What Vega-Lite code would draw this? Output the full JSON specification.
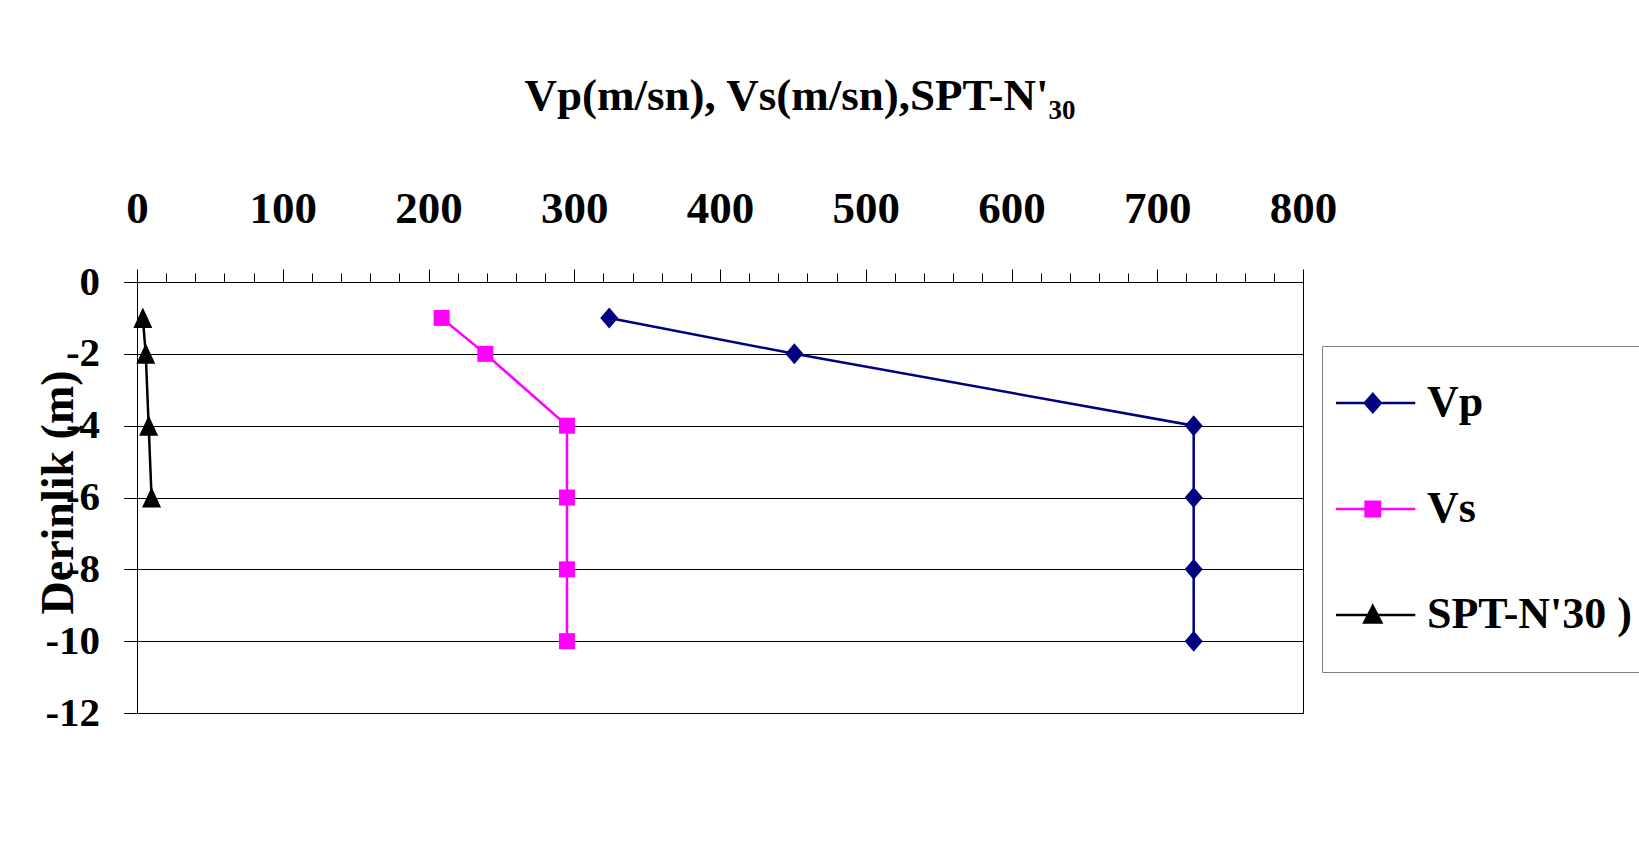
{
  "$schema": "https://vega.github.io/schema/vega-lite/v6.json",
  "autosize": {"type": "none"},
  "padding": {"left": 137, "top": 282, "right": 336, "bottom": 151},
  "width": 1166,
  "height": 431,
  "background": "#ffffff",
  "config": {"view": {"stroke": "#000000", "strokeWidth": 1}, "font": "Liberation Serif"},
  "title": {"text": "Vp(m/sn), Vs(m/sn),SPT-N'₃₀", "font": "Liberation Serif", "fontSize": 45, "fontWeight": "bold", "color": "#000000", "anchor": "middle", "frame": "group", "dx": 80, "baseline": "alphabetic", "offset": 31},
  "data": {"values": [
    {"series": "Vp", "depth": -1, "value": 324},
    {"series": "Vp", "depth": -2, "value": 451},
    {"series": "Vp", "depth": -4, "value": 725},
    {"series": "Vp", "depth": -6, "value": 725},
    {"series": "Vp", "depth": -8, "value": 725},
    {"series": "Vp", "depth": -10, "value": 725},
    {"series": "Vs", "depth": -1, "value": 209},
    {"series": "Vs", "depth": -2, "value": 239},
    {"series": "Vs", "depth": -4, "value": 295},
    {"series": "Vs", "depth": -6, "value": 295},
    {"series": "Vs", "depth": -8, "value": 295},
    {"series": "Vs", "depth": -10, "value": 295},
    {"series": "SPT-N'30 )", "depth": -1, "value": 4},
    {"series": "SPT-N'30 )", "depth": -2, "value": 6},
    {"series": "SPT-N'30 )", "depth": -4, "value": 8},
    {"series": "SPT-N'30 )", "depth": -6, "value": 10}
  ]},
  "encoding": {
    "x": {"field": "value", "type": "quantitative", "scale": {"domain": [0, 800], "nice": false, "zero": false},
      "axis": {"orient": "top", "title": null, "grid": false,
        "values": [0,20,40,60,80,100,120,140,160,180,200,220,240,260,280,300,320,340,360,380,400,420,440,460,480,500,520,540,560,580,600,620,640,660,680,700,720,740,760,780,800],
        "labelExpr": "datum.value % 100 === 0 ? datum.label : ''",
        "tickSize": {"condition": {"test": "datum.value % 100 === 0", "value": 13}, "value": 9},
        "tickColor": "#000000", "tickWidth": 1, "domainColor": "#000000", "domainWidth": 1,
        "labelFont": "Liberation Serif", "labelFontSize": 45, "labelFontWeight": "bold", "labelColor": "#000000",
        "labelPadding": 38, "labelFlush": false, "labelOverlap": false, "labelBound": false}},
    "y": {"field": "depth", "type": "quantitative", "scale": {"domain": [-12, 0], "nice": false, "zero": false},
      "axis": {"orient": "left", "values": [-12,-10,-8,-6,-4,-2,0], "grid": true, "gridColor": "#000000", "gridWidth": 1, "gridOpacity": 1,
        "tickSize": 13.4, "tickColor": "#000000", "domainColor": "#000000",
        "labelExpr": "'' + datum.value",
        "labelFont": "Liberation Serif", "labelFontSize": 41, "labelFontWeight": "bold", "labelColor": "#000000", "labelPadding": 24, "labelFlush": false, "labelOverlap": false,
        "title": "Derinlik (m)", "titleFont": "Liberation Serif", "titleFontSize": 46, "titleFontWeight": "bold", "titleColor": "#000000",
        "titleX": -65, "titleY": 210, "titleAngle": 270, "titleBaseline": "alphabetic", "titleAlign": "center"}}
  },
  "layer": [
    {"mark": {"type": "line", "strokeWidth": 2.5},
     "encoding": {"color": {"field": "series", "type": "nominal", "scale": {"domain": ["SPT-N'30 )", "Vp", "Vs"], "range": ["#000000", "#000080", "#FF00FF"]}, "legend": null},
       "order": {"field": "depth", "sort": "descending"}}},
    {"transform": [{"filter": "datum.series === 'Vp'"}],
     "mark": {"type": "point", "shape": "M0,-1.05L0.9,0L0,1.05L-0.9,0Z", "filled": true, "size": 400, "opacity": 1, "color": "#000080", "strokeWidth": 0}},
    {"transform": [{"filter": "datum.series === 'Vs'"}],
     "mark": {"type": "point", "shape": "square", "filled": true, "size": 256, "opacity": 1, "color": "#FF00FF", "strokeWidth": 0}},
    {"transform": [{"filter": "indexof(datum.series, 'SPT') === 0"}],
     "mark": {"type": "point", "shape": "M0,-1.05L0.95,1L-0.95,1Z", "filled": true, "size": 400, "opacity": 1, "color": "#000000", "strokeWidth": 0}},
    {"transform": [{"filter": "false"}],
     "mark": {"type": "point", "filled": true, "opacity": 1, "strokeWidth": 2.5, "size": 400},
     "encoding": {
       "fill": {"field": "series", "type": "nominal", "scale": {"domain": ["Vp", "Vs", "SPT-N'30 )"], "range": ["#000080", "#FF00FF", "#000000"]},
         "legend": {"title": null, "orient": "none", "legendX": 1185, "legendY": 64, "padding": 35, "rowPadding": 62, "strokeColor": "#808080", "fillColor": "#ffffff", "symbolSize": 400, "symbolStrokeWidth": 2.5, "symbolOpacity": 1, "labelFont": "Liberation Serif", "labelFontSize": 44, "labelFontWeight": "bold", "labelColor": "#000000", "labelOffset": 26, "labelLimit": 400, "direction": "vertical"}},
       "stroke": {"field": "series", "type": "nominal", "scale": {"domain": ["Vp", "Vs", "SPT-N'30 )"], "range": ["#000080", "#FF00FF", "#000000"]},
         "legend": {"title": null, "orient": "none", "legendX": 1185, "legendY": 64, "padding": 35, "rowPadding": 62, "strokeColor": "#808080", "fillColor": "#ffffff", "symbolSize": 400, "symbolStrokeWidth": 2.5, "symbolOpacity": 1, "labelFont": "Liberation Serif", "labelFontSize": 44, "labelFontWeight": "bold", "labelColor": "#000000", "labelOffset": 26, "labelLimit": 400, "direction": "vertical"}},
       "shape": {"field": "series", "type": "nominal", "scale": {"domain": ["Vp", "Vs", "SPT-N'30 )"], "range": ["M-4.3,0H3.63M-0.62,-0.9L0.18,0L-0.62,0.9L-1.42,0Z", "M-4.3,0H3.63M-1.34,-0.72H0.1V0.72H-1.34Z", "M-4.3,0H3.63M-0.62,-0.9L0.23,0.75L-1.47,0.75Z"]},
         "legend": {"title": null, "orient": "none", "legendX": 1185, "legendY": 64, "padding": 35, "rowPadding": 62, "strokeColor": "#808080", "fillColor": "#ffffff", "symbolSize": 400, "symbolStrokeWidth": 2.5, "symbolOpacity": 1, "labelFont": "Liberation Serif", "labelFontSize": 44, "labelFontWeight": "bold", "labelColor": "#000000", "labelOffset": 26, "labelLimit": 400, "direction": "vertical"}}
     }}
  ]
}
